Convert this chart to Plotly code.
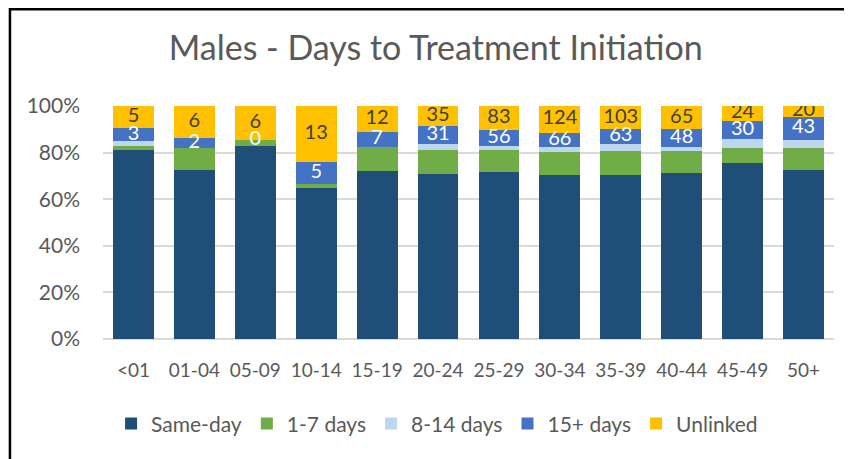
import numpy as np
import plotly.graph_objects as go

# age groups on the x axis
age_groups = ["<01", "01-04", "05-09", "10-14", "15-19", "20-24",
              "25-29", "30-34", "35-39", "40-44", "45-49", "50+"]

# patient counts per bucket (stacked to 100%)
same_day = [43, 32, 34, 35, 78, 289, 584, 767, 726, 464, 287, 316]
days_1_7 = [1, 4, 1, 1, 11, 41, 75, 108, 105, 60, 26, 41]
days_8_14 = [1, 0, 0, 0, 0, 11, 16, 23, 33, 13, 14, 15]
days_15_plus = [3, 2, 0, 5, 7, 31, 56, 66, 63, 48, 30, 43]
unlinked = [5, 6, 6, 13, 12, 35, 83, 124, 103, 65, 24, 20]

series = [
    ("Same-day", same_day, "#1F4E79"),
    ("1-7 days", days_1_7, "#70AD47"),
    ("8-14 days", days_8_14, "#BDD7EE"),
    ("15+ days", days_15_plus, "#4472C4"),
    ("Unlinked", unlinked, "#FFC000"),
]

FONT = "Lato, Calibri, sans-serif"
GREY = "#595959"

fig = go.Figure()
for name, vals, color in series:
    fig.add_trace(go.Bar(
        x=age_groups, y=vals, name=name,
        marker=dict(color=color, line=dict(width=0)),
    ))

# label positions: middle of the 15+ and Unlinked segments, in percent
counts = np.array([s[1] for s in series], dtype=float)
pct = counts / counts.sum(axis=0) * 100
cum = np.cumsum(pct, axis=0)
mid_15 = cum[3] - pct[3] / 2
mid_unl = cum[4] - pct[4] / 2

fig.add_trace(go.Scatter(
    x=age_groups, y=mid_15, mode="text", text=[str(v) for v in days_15_plus],
    textfont=dict(family=FONT, size=20, color="white"),
    showlegend=False, hoverinfo="skip",
))
fig.add_trace(go.Scatter(
    x=age_groups, y=mid_unl, mode="text", text=[str(v) for v in unlinked],
    textfont=dict(family=FONT, size=20, color="#404040"),
    showlegend=False, hoverinfo="skip",
))

# the page body adds an 8px offset, so margins are shifted up/left by 8
fig.update_layout(
    width=852, height=459,
    barmode="stack", barnorm="percent", bargap=0.33,
    plot_bgcolor="white", paper_bgcolor="white",
    margin=dict(l=95, r=26, t=98, b=128, autoexpand=False),
    font=dict(family=FONT, color=GREY, size=19),
    title=dict(text="Males - Days to Treatment Initiation",
               x=0.502, xanchor="center", xref="container",
               y=0.913, yref="container", yanchor="middle",
               font=dict(family=FONT, size=34, color=GREY)),
    legend=dict(orientation="h", x=0.457, xanchor="center",
                y=0.094, yref="container", yanchor="middle",
                font=dict(family=FONT, size=21, color=GREY), traceorder="normal"),
    showlegend=True,
)
fig.update_xaxes(type="category", range=[-0.5, len(age_groups) - 0.5],
                 showgrid=False, ticks="", ticklabelstandoff=18,
                 tickfont=dict(family=FONT, size=19, color=GREY), showline=False)
fig.update_yaxes(range=[0, 100], dtick=20, ticksuffix="%", showgrid=True,
                 gridcolor="#D9D9D9", gridwidth=1.5, zeroline=True,
                 zerolinecolor="#D9D9D9", zerolinewidth=2, ticks="",
                 ticklabelstandoff=22, tickfont=dict(family=FONT, size=21, color=GREY))

# black chart frame (the outer border of the Excel chart area)
fig.add_shape(type="rect", xref="paper", yref="paper",
              x0=-0.1273, x1=1.05, y0=-0.6, y1=1.415,
              line=dict(color="black", width=2.5), layer="above")

fig.write_html("out.html")
